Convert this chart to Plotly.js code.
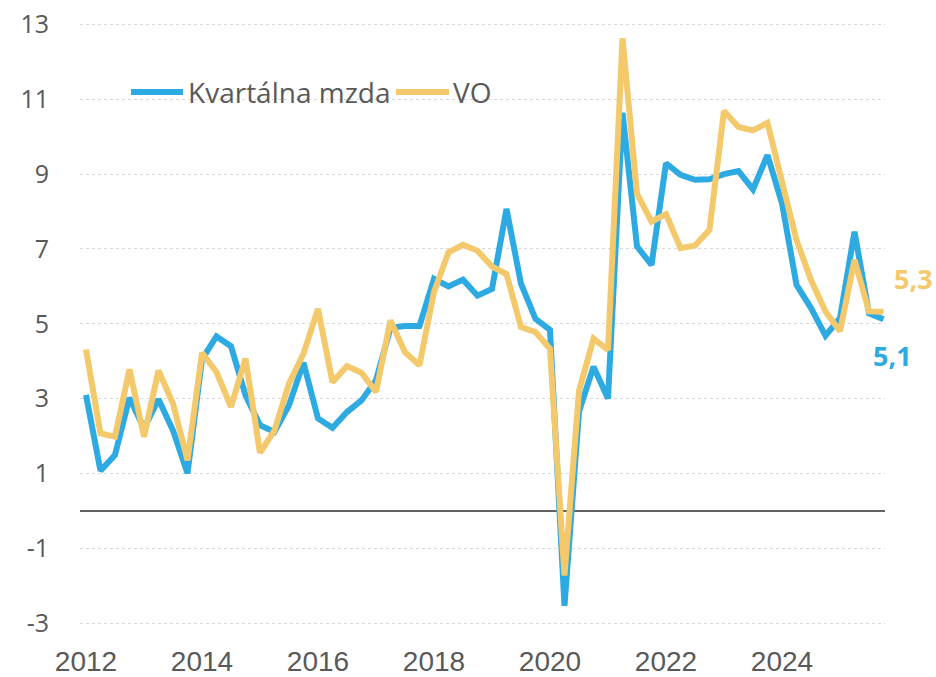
<!DOCTYPE html>
<html>
<head>
<meta charset="utf-8">
<script src="https://cdn.plot.ly/plotly-3.0.1.min.js"></script>
<style>html,body{margin:0;padding:0;background:#fff;}#chart{width:936px;height:677px;}</style>
</head>
<body>
<div id="chart"></div>
<script>
// Quarterly data, 2012Q1 .. 2025Q4
const startYear = 2012;
const seriesNames = ["Kvartálna mzda", "VO"];
const kvartalnaMzda = [3.1, 1.07, 1.49, 3.02, 2.2, 2.98, 2.15, 1.0,
  4.05, 4.66, 4.4, 3.09, 2.29, 2.11, 2.82, 3.96,
  2.47, 2.22, 2.64, 2.95, 3.49, 4.89, 4.94, 4.94,
  6.2, 6.0, 6.18, 5.75, 5.93, 8.07, 6.07, 5.13,
  4.84, -2.54, 2.65, 3.85, 3.0, 10.64, 7.07, 6.57,
  9.29, 8.98, 8.85, 8.86, 9.0, 9.08, 8.59, 9.51,
  8.22, 6.04, 5.42, 4.68, 5.15, 7.46, 5.28, 5.12];
const vo = [4.31, 2.07, 1.98, 3.78, 1.98, 3.75, 2.87, 1.35,
  4.22, 3.71, 2.78, 4.07, 1.55, 2.15, 3.4, 4.2,
  5.4, 3.44, 3.87, 3.69, 3.18, 5.09, 4.24, 3.89,
  5.85, 6.91, 7.11, 6.95, 6.53, 6.33, 4.91, 4.78,
  4.33, -1.73, 3.2, 4.6, 4.3, 12.63, 8.48, 7.73,
  7.93, 7.02, 7.09, 7.51, 10.69, 10.26, 10.17, 10.37,
  8.8, 7.24, 6.17, 5.33, 4.8, 6.71, 5.33, 5.32];
const xTickVals = [2012, 2014, 2016, 2018, 2020, 2022, 2024];
const xTickText = ["2012", "2014", "2016", "2018", "2020", "2022", "2024"];
const yTickVals = [-3, -1, 1, 3, 5, 7, 9, 11, 13];
const yTickText = ["-3", "-1", "1", "3", "5", "7", "9", "11", "13"];

const xs = kvartalnaMzda.map((_, i) => startYear + i / 4);
const blue = '#2DAAE1', gold = '#F3C96C', grey = '#595959';
const fmt = v => v.toFixed(1).replace('.', ',');

const traces = [
  {x: xs, y: kvartalnaMzda, name: seriesNames[0], type: 'scatter', mode: 'lines',
   line: {color: blue, width: 6}},
  {x: xs, y: vo, name: seriesNames[1], type: 'scatter', mode: 'lines',
   line: {color: gold, width: 6}}
];

// plot area: l=80, width=805; paper x helper
const px = p => (p - 80) / 805;
const py = p => (638 - p) / 622;
const legendFont = {family: 'Open Sans, sans-serif', size: 28, color: grey};

const layout = {
  width: 936, height: 677,
  margin: {l: 80, r: 51, t: 17, b: 39},
  paper_bgcolor: '#fff', plot_bgcolor: '#fff',
  showlegend: false,
  xaxis: {range: [2011.897, 2025.776], tickvals: xTickVals, ticktext: xTickText,
          showgrid: false, zeroline: false, showline: false, ticks: '',
          tickfont: {family: 'Liberation Sans Narrow, Arial Narrow, sans-serif', size: 28, color: grey},
          ticklabelstandoff: 4},
  yaxis: {range: [-3.4, 13.2], tickvals: yTickVals, ticktext: yTickText, showgrid: true,
          gridcolor: '#d9d9d9', griddash: 'dot', gridwidth: 1,
          zeroline: true, zerolinecolor: '#636363', zerolinewidth: 2.5,
          showline: false, ticks: '',
          tickfont: {family: 'Open Sans, sans-serif', size: 25, color: grey},
          ticklabelstandoff: 30},
  shapes: [
    {type: 'line', xref: 'paper', yref: 'paper', x0: px(131), x1: px(183), y0: py(91), y1: py(91),
     line: {color: blue, width: 6}},
    {type: 'line', xref: 'paper', yref: 'paper', x0: px(396), x1: px(449), y0: py(91), y1: py(91),
     line: {color: gold, width: 6}}
  ],
  annotations: [
    {xref: 'paper', yref: 'paper', x: px(186), y: py(91), xanchor: 'left', yanchor: 'middle',
     text: seriesNames[0], showarrow: false, font: legendFont},
    {xref: 'paper', yref: 'paper', x: px(451), y: py(91), xanchor: 'left', yanchor: 'middle',
     text: seriesNames[1], showarrow: false, font: legendFont},
    {xref: 'paper', yref: 'y', x: px(935), y: 6.2, xanchor: 'right', text: '<b>' + fmt(vo[vo.length - 1]) + '</b>',
     showarrow: false, font: {family: 'Open Sans, sans-serif', size: 27, color: gold}},
    {xref: 'paper', yref: 'y', x: px(871), y: 4.15, xanchor: 'left', text: '<b>' + fmt(kvartalnaMzda[kvartalnaMzda.length - 1]) + '</b>',
     showarrow: false, font: {family: 'Open Sans, sans-serif', size: 27, color: blue}}
  ]
};

Plotly.newPlot('chart', traces, layout, {displayModeBar: false, staticPlot: true});
</script>
</body>
</html>
